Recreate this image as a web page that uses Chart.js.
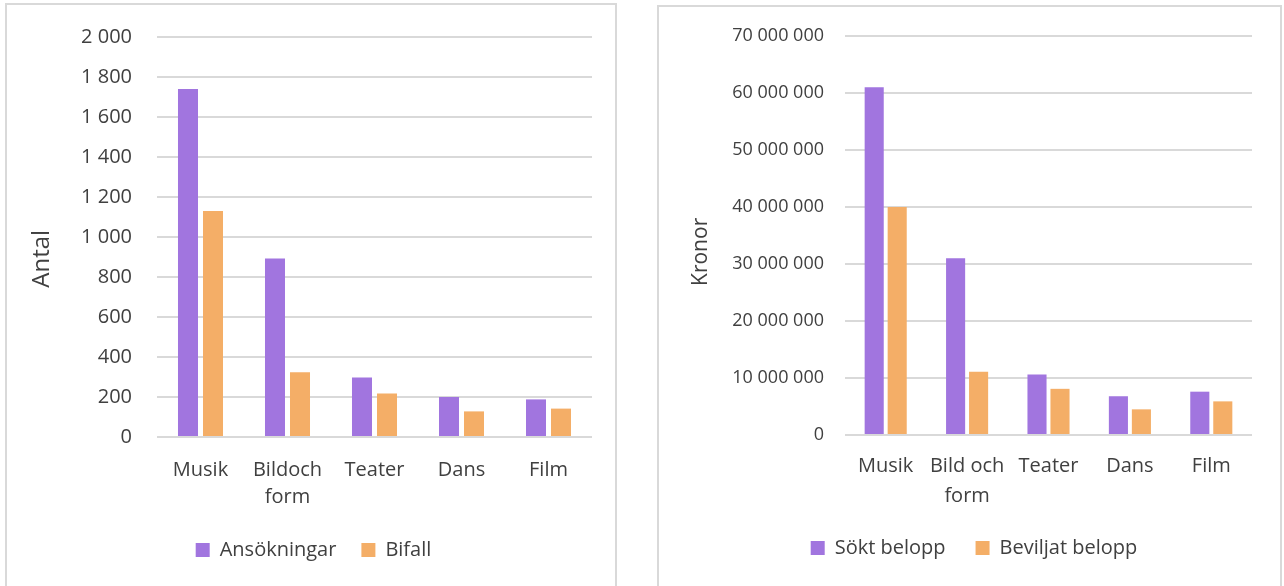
<!DOCTYPE html>
<html>
<head>
<meta charset="utf-8">
<script src="https://cdn.jsdelivr.net/npm/chart.js@4.4.1/dist/chart.umd.min.js"></script>
<style>
    body { margin: 0; background: #fff; overflow: hidden; }
    .panel { position: absolute; border: 2px solid #d9d9d9; box-sizing: border-box; }
    canvas { position: absolute; top: 0; }
</style>
</head>
<body>
<div class="panel" style="left:5px; top:3px; width:612px; height:600px;"></div>
<div class="panel" style="left:657px; top:5px; width:625px; height:600px;"></div>
<canvas id="antalChart" width="640" height="600" style="left:0px"></canvas>
<canvas id="kronorChart" width="644" height="600" style="left:640px"></canvas>
<script>
// data
const categories = [['Musik'], ['Bildoch', 'form'], ['Teater'], ['Dans'], ['Film']];
const categoriesRight = [['Musik'], ['Bild och', 'form'], ['Teater'], ['Dans'], ['Film']];
const ansokningar = [1740, 892, 298, 200, 188];
const bifall = [1130, 324, 218, 128, 142];
const soktBelopp = [61000000, 31000000, 10600000, 6800000, 7600000];
const beviljatBelopp = [40000000, 11100000, 8100000, 4500000, 5900000];
const antalTicks = { min: 0, max: 2000, step: 200 };
const kronorTicks = { min: 0, max: 70000000, step: 10000000 };

const purple = '#a175df';
const orange = '#f4ae67';
const textColor = '#404040';
const gridColor = '#d9d9d9';
const fontFamily = "'Open Sans', 'Noto Sans', sans-serif";
const nbsp = '\u00a0';

function spaced(v) {
    return v.toString().replace(/\B(?=(\d{3})+(?!\d))/g, ' ');
}

function makeChart(id, cfg) {
    return new Chart(document.getElementById(id), {
        type: 'bar',
        data: {
            labels: cfg.labels,
            datasets: [{
                label: cfg.names[0],
                data: cfg.series[0],
                backgroundColor: purple,
                barPercentage: cfg.barPct,
                categoryPercentage: cfg.catPct
            }, {
                label: cfg.names[1],
                data: cfg.series[1],
                backgroundColor: orange,
                barPercentage: cfg.barPct,
                categoryPercentage: cfg.catPct
            }]
        },
        options: {
            responsive: false,
            animation: false,
            layout: { padding: cfg.padding },
            plugins: {
                tooltip: { enabled: false },
                legend: {
                    position: 'bottom',
                    labels: {
                        boxWidth: 14,
                        boxHeight: 14,
                        padding: cfg.legendPad,
                        color: textColor,
                        font: { family: fontFamily, size: 20 }
                    }
                }
            },
            scales: {
                x: {
                    grid: { display: false, drawTicks: false },
                    border: { display: false },
                    ticks: {
                        color: textColor,
                        padding: cfg.xPad,
                        maxRotation: 0,
                        font: { family: fontFamily, size: 20, lineHeight: cfg.xLine }
                    },
                    afterFit: function (scale) { scale.height = cfg.xHeight; }
                },
                y: {
                    min: cfg.ticks.min,
                    max: cfg.ticks.max,
                    grid: { color: gridColor, lineWidth: 2, drawTicks: false },
                    border: { display: false },
                    ticks: {
                        stepSize: cfg.ticks.step,
                        color: textColor,
                        padding: cfg.yPad,
                        font: { family: fontFamily, size: cfg.yFont },
                        callback: function (v) { return spaced(v); }
                    },
                    title: {
                        display: true,
                        text: cfg.title,
                        color: textColor,
                        padding: { top: cfg.titlePad, bottom: 0 },
                        font: { family: fontFamily, size: cfg.titleFont }
                    },
                    afterFit: function (scale) { scale.width = cfg.yWidth; }
                }
            }
        }
    });
}

makeChart('antalChart', {
    labels: categories,
    names: ['Ansökningar', 'Bifall'],
    series: [ansokningar, bifall],
    ticks: antalTicks,
    barPct: 0.8,
    catPct: 0.575,
    padding: { left: 35, right: 48, top: 31, bottom: 30 },
    legendPad: 25,
    xPad: 20,
    xLine: 1.35,
    xHeight: 78,
    yPad: 25,
    yFont: 20,
    yWidth: 122,
    title: 'Antal' + nbsp.repeat(7),
    titleFont: 24,
    titlePad: -7
});

makeChart('kronorChart', {
    labels: categoriesRight,
    names: ['Sökt belopp', 'Beviljat belopp'],
    series: [soktBelopp, beviljatBelopp],
    ticks: kronorTicks,
    barPct: 0.83,
    catPct: 0.565,
    padding: { left: 56, right: 32, top: 36, bottom: 32 },
    legendPad: 30,
    xPad: 16,
    xLine: 1.5,
    xHeight: 73,
    yPad: 21,
    yFont: 18,
    yWidth: 149,
    title: 'Kronor' + nbsp.repeat(6),
    titleFont: 21,
    titlePad: -8
});
</script>
</body>
</html>
